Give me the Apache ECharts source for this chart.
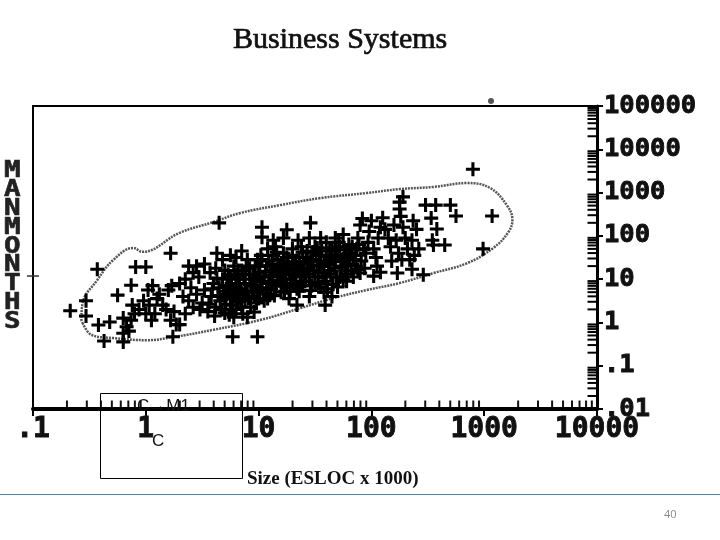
<!DOCTYPE html>
<html><head><meta charset="utf-8">
<style>html,body{margin:0;padding:0;background:#fff}#c{width:720px;height:540px}</style>
<script src="https://cdn.jsdelivr.net/npm/echarts@6/dist/echarts.min.js"></script>
</head><body><div id="c"></div>
<script>
const xTickLabels = ['.1','1','10','100','1000','10000'];
const yTickLabels = ['.01','.1','1','10','100','1000','10000','100000'];
const minorMantissas = [2,3,4,5,6,7,8,9];
// Points, as [log10 size, log10 man-months]
const sparsePoints = [[-.67,.27],[-.53,.5],[-.53,.15],[-.43,1.23],[-.42,-.06],[-.32,.01],[-.37,-.43],[-.2,-.45],[-.25,.63],[-.13,.86],[-.09,1.28],[0,1.28],[.22,1.6],[.24,-.33],[.77,-.33],[.99,-.33],[.65,2.3],[1.46,2.3],[1.03,2.2],[1.03,1.97],[1.25,2.14],[1.34,.4],[1.59,.4],[2.9,3.54],[3.07,2.46],[2.99,1.7],[2.75,2.46],[2.7,2.71],[2.48,2.71],[2.57,2.71],[2.53,2.41],[2.58,2.16],[2.54,1.9],[2.55,1.79],[2.65,1.79],[2.46,1.1],[2.36,1.23],[2.23,1.14],[2.08,1.16],[2.02,1.07],[1.9,1.14],[2.28,2.9],[2.25,2.78]];
const lowEndPoints = [[-.2,.1],[-.17,-.1],[-.15,-.2],[-.2,-.25],[-.13,.05],[-.1,.2],[-.12,.4],[-.06,.3],[-.02,.5],[0,.2],[.03,.4],[.05,.05],[.08,.2],[.02,.75],[.06,.85],[.1,.55],[.12,.65],[.15,.4],[.18,.3],[.22,.05],[.25,.25],[.27,-.05],[.3,-.05],[.2,.75],[.23,.85],[.3,.9],[.35,1],[.33,.6],[.38,.5],[.42,.35],[.35,.2],[.4,.8],[.45,.65],[.5,.45],[.55,.25],[.48,.3],[.52,.75],[.58,.6],[.6,.9],[.47,1.05],[.42,1.15],[.38,1.3],[.45,1.3],[.52,1.35],[.57,1.15],[.62,1.25]];
const middlePoints = [[.62,.35],[.66,.5],[.7,.22],[.72,.65],[.75,.4],[.78,.12],[.8,.3],[.83,.55],[.86,.2],[.9,.12],[.93,.35],[.96,.6],[.65,.8],[.68,1],[.7,1.2],[.72,.85],[.75,1.05],[.78,1.3],[.8,.8],[.82,1.0],[.85,1.2],[.88,.9],[.9,1.45],[.92,1.1],[.95,.85],[.97,1.3],[.75,1.55],[.8,1.5],[.85,1.65],[.68,1.45],[.63,1.6],[1,.55],[1.02,.8],[1.05,1.05],[1.07,1.3],[1.1,.65],[1.12,.95],[1.14,1.2],[1.17,1.45],[1.2,.7],[1.22,1],[1.24,1.25],[1.27,.55],[1.29,.85],[1.31,1.1],[1.33,1.4],[1.36,.72],[1.38,.95],[1.4,1.2],[1.42,1.5],[1.02,1.55],[1.08,1.7],[1.15,1.75],[1.22,1.6],[1.3,1.7],[1.38,1.75],[1.35,1.9],[1.22,1.95],[1.13,1.9],[1.45,.6],[1.47,.85],[1.5,1.05],[1.52,1.3],[1.55,1.55],[1.58,.7],[1.6,.95],[1.62,1.2],[1.65,1.45],[1.68,1.7],[1.7,.82],[1.72,1.05],[1.74,1.3],[1.77,1.55],[1.8,1.8],[1.5,1.75],[1.55,1.95],[1.6,1.85],[1.68,1.95],[1.75,2.03],[1.45,1.95],[1.65,.6],[1.78,.95],[1.82,1.2]];
const denseCorePoints = [[.9,.7],[.93,.9],[.95,1.1],[.98,.45],[1,1.15],[1.03,.95],[1.05,.5],[1.07,.75],[1.1,1.1],[1.12,1.35],[1.15,.85],[1.17,1.05],[1.19,1.25],[1.21,.9],[1.24,1.12],[1.26,1.35],[1.28,1],[1.3,1.22],[1.33,1.05],[1.35,1.28],[1.37,1.1],[1.4,1.35],[1.42,1.05],[1.44,1.25],[1.47,1.45],[1.49,1.2],[1.51,1.55],[1.54,1.4],[1.56,1.15],[1.58,1.35],[1.6,1.55],[1.63,1.35],[1.65,1.65],[1.67,1.25],[1.7,1.55],[1.72,1.75],[1.75,1.4],[1.77,1.2],[1.8,1.6],[.7,.55],[.74,.8],[.77,.6],[.8,1.1],[.83,.9],[.86,.65],[.88,1.1],[.92,1.25],[.97,1],[1.01,1.3],[1.09,.9],[1.13,1.55],[1.18,1.3],[1.25,.8],[1.32,.9],[1.39,.85],[1.43,1.65],[1.48,1.62],[1.53,.9]];
const coreFillPoints = [[.56,.42],[.59,.78],[.61,.15],[.63,1.02],[.64,.62],[.67,.3],[.69,.72],[.71,.42],[.73,1.1],[.74,.18],[.76,.9],[.77,.3],[.79,.72],[.81,.48],[.82,1.2],[.84,.76],[.85,.36],[.87,1],[.88,.5],[.89,1.3],[.91,.56],[.94,.72],[.96,.24],[.98,.84],[.99,1.45],[1,.68],[1.01,1.05],[1.03,1.45],[1.04,.66],[1.06,1.18],[1.08,.55],[1.09,1.42],[1.11,.78],[1.12,1.08],[1.14,.62],[1.16,1.62],[1.18,.96],[1.2,1.15],[1.22,1.42],[1.23,.72],[1.25,1.5],[1.27,1.2],[1.28,.72],[1.3,1.55],[1.32,1.32],[1.34,.78],[1.36,1.5],[1.38,1.22],[1.39,1.62],[1.41,.95],[1.43,1.42],[1.45,1.12],[1.46,.74],[1.48,1.32],[1.5,.92],[1.52,1.72],[1.53,1.18],[1.55,.82],[1.56,1.65],[1.58,1.05],[1.6,1.42],[1.61,.78],[1.63,1.72],[1.64,1.12],[1.66,.88],[1.68,1.48],[1.69,1.05],[1.71,1.85],[1.73,1.45],[1.75,.98],[1.76,1.68],[1.78,1.35],[1.79,1.12],[1.81,1.5],[1.83,1.75],[1.84,1.05],[1.86,1.55],[1.88,1.22],[1.89,1.8],[1.91,1.42],[1.93,1.68]];
const upperPoints = [[1.84,1.45],[1.87,1.7],[1.88,1.95],[1.9,2.25],[1.92,2.4],[1.95,1.6],[1.97,1.85],[1.98,2.1],[2,2.35],[2.02,1.7],[2.04,1.5],[2.06,1.95],[2.08,2.2],[2.1,2.42],[2.12,2.15],[2.15,1.95],[2.17,1.75],[2.2,2.25],[2.22,1.9],[2.24,1.6],[2.26,2.45],[2.28,2.2],[2.3,1.95],[2.32,1.7],[2.34,1.45],[2.37,2.35],[2.4,2.15],[2.36,1.9],[2.38,1.55],[2.27,1.45],[2.18,1.42],[1.94,1.25],[2.25,2.62],[1.86,1.3],[2.42,1.7],[2.05,1.3]];
const contourPoints = [[-.56,-.01],[-.48,-.29],[-.29,-.36],[.01,-.41],[.24,-.34],[.6,-.17],[1.02,.06],[1.37,.33],[1.66,.56],[1.96,.75],[2.25,.91],[2.55,1.14],[2.85,1.37],[3.08,1.72],[3.21,2.07],[3.25,2.37],[3.2,2.71],[3.05,3.11],[2.85,3.22],[2.55,3.13],[2.25,3.08],[1.96,2.99],[1.54,2.87],[1.19,2.71],[.84,2.53],[.6,2.32],[.3,2.07],[-.03,1.63],[-.11,1.72],[-.29,1.44],[-.43,.98],[-.56,.45],[-.57,.06],[-.56,-.01]];

const bySize = a => a.map(p => [Math.pow(10,p[0]), Math.pow(10,p[1])]);
const allPoints = bySize([].concat(sparsePoints, lowEndPoints, middlePoints, denseCorePoints, coreFillPoints, upperPoints));
const minorX = [], minorY = [];
for (let d=-1; d<4; d++) minorMantissas.forEach(m => minorX.push([m*Math.pow(10,d), 0.01]));
for (let d=-2; d<5; d++) minorMantissas.forEach(m => minorY.push([10000, m*Math.pow(10,d)]));
const plus = 'path://M39,0H61V39H100V61H61V100H39V61H0V39H39Z';
const mono = '"DejaVu Sans Mono"';
const heavy = {textBorderColor:'#111',textBorderWidth:.9};
const chart = echarts.init(document.getElementById('c'));
chart.setOption({
  animation:false, backgroundColor:'#fff',
  title:{text:'Business Systems',left:228,top:20,textStyle:{fontFamily:'"Liberation Serif"',fontSize:30,fontWeight:'normal',color:'#111',textBorderColor:'#111',textBorderWidth:.7}},
  grid:{left:33,right:123,top:106,bottom:131,show:true,borderColor:'#000',borderWidth:2,backgroundColor:'transparent'},
  xAxis:{type:'log',logBase:10,min:.1,max:10000,
    axisLine:{show:true,onZero:false,lineStyle:{color:'#000',width:4}},
    axisTick:{show:true,inside:false,length:7,lineStyle:{color:'#000',width:2}},
    minorTick:{show:false},splitLine:{show:false},
    axisLabel:{margin:7,fontFamily:mono,fontWeight:'bold',fontSize:28,color:'#111',...heavy,
      formatter:v=>xTickLabels[Math.round(Math.log10(v))+1]}},
  yAxis:{type:'log',logBase:10,min:.01,max:100000,position:'right',
    axisLine:{show:true,onZero:false,lineStyle:{color:'#000',width:3}},
    axisTick:{show:true,length:6,lineStyle:{color:'#000',width:2}},
    minorTick:{show:false},splitLine:{show:false},
    axisLabel:{margin:7,fontFamily:mono,fontWeight:'bold',fontSize:25.5,color:'#111',...heavy,
      formatter:v=>yTickLabels[Math.round(Math.log10(v))+2]}},
  series:[
    {type:'line',data:bySize(contourPoints),smooth:.4,showSymbol:false,symbol:'none',lineStyle:{color:'#555',width:2.5,type:[2,1]},z:2,silent:true},
    {type:'scatter',data:allPoints,symbol:plus,symbolSize:14,itemStyle:{color:'#000',opacity:1},z:3,silent:true},
    {type:'scatter',data:minorX,clip:false,symbol:'rect',symbolSize:[2,7],symbolOffset:[0,-5],itemStyle:{color:'#111',opacity:1},z:4,silent:true},
    {type:'scatter',data:minorY,clip:false,symbol:'rect',symbolSize:[9,2],symbolOffset:[-5,0],itemStyle:{color:'#000',opacity:1},z:4,silent:true},
    {type:'scatter',data:[[.1,11.8]],clip:false,symbol:'rect',symbolSize:[12,1.5],itemStyle:{color:'#333',opacity:1},z:4,silent:true}
  ],
  graphic:[
    {type:'rect',shape:{x:100.5,y:393.5,width:142,height:85},style:{fill:'transparent',stroke:'#000',lineWidth:1},z:10},
    {type:'text',left:137,top:398,style:{text:'C→M1',fontFamily:'"Liberation Sans"',fontSize:17,fill:'#111'},z:10},
    {type:'text',left:152,top:433,style:{text:'C',fontFamily:'"Liberation Sans"',fontSize:17,fill:'#111'},z:10},
    {type:'text',left:247,top:470,style:{text:'Size (ESLOC x 1000)',fontFamily:'"Liberation Serif"',fontSize:19,fontWeight:'bold',fill:'#111'},z:10},
    {type:'text',x:4,y:162,scaleX:1.2,style:{text:'M\nA\nN\nM\nO\nN\nT\nH\nS',fontFamily:mono,fontWeight:'bold',fontSize:23,lineHeight:18.8,fill:'#222',stroke:'#222',lineWidth:.6},z:10},
    {type:'circle',shape:{cx:491,cy:101,r:3},style:{fill:'#555'},z:10},
    {type:'line',shape:{x1:0,y1:494.5,x2:720,y2:494.5},style:{stroke:'#5f7f92',lineWidth:1},z:10},
    {type:'text',left:664,top:509,style:{text:'40',fontFamily:'"Open Sans"',fontSize:11,fill:'#8a8a8a'},z:10}
  ]
});
</script></body></html>
